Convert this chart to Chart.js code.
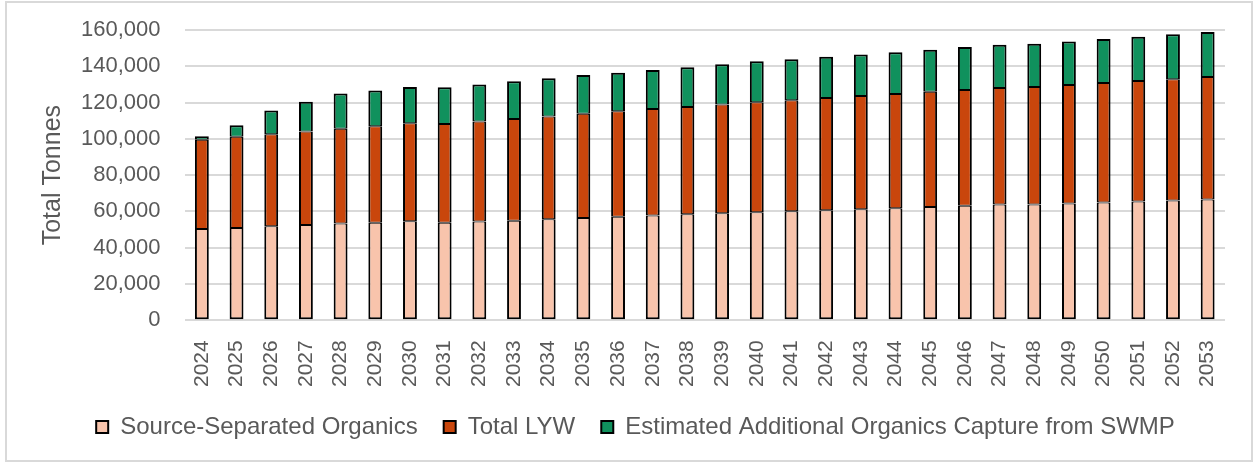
<!DOCTYPE html>
<html>
<head>
<meta charset="utf-8">
<script src="https://cdn.jsdelivr.net/npm/chart.js@4"></script>
<style>
  html, body { margin: 0; padding: 0; background: #fff; }
  #wrap { position: relative; width: 1259px; height: 465px; }
  #frame { position: absolute; left: 5px; top: 1px; width: 1244px; height: 457px; border: 2px solid #d9d9d9; pointer-events: none; }
</style>
</head>
<body>
<div id="wrap">
  <canvas id="chart" width="1259" height="465"></canvas>
  <div id="frame"></div>
</div>
<script>
// values, tonnes
const years = ['2024','2025','2026','2027','2028','2029','2030','2031','2032','2033',
  '2034','2035','2036','2037','2038','2039','2040','2041','2042','2043',
  '2044','2045','2046','2047','2048','2049','2050','2051','2052','2053'];

const sourceSeparated = [50300, 50900, 51800, 52500, 53300, 53800, 54600, 53800, 54400, 54900,
  55700, 56400, 57000, 57700, 58500, 59000, 59600, 60100, 60700, 61200,
  61800, 62500, 63100, 63800, 63800, 64400, 64900, 65500, 66000, 66600];

const totalLYW = [49200, 50300, 50700, 51500, 52300, 53100, 54000, 54400, 55100, 56100,
  56600, 57500, 58200, 58800, 59000, 59900, 60600, 61200, 61800, 62400,
  62900, 63500, 63800, 64200, 64800, 65300, 65900, 66400, 66800, 67500];

const swmpCapture = [1900, 6300, 13100, 16400, 19400, 19800, 20000, 20200, 20500, 20700,
  21100, 21300, 21300, 21500, 22000, 22200, 22600, 22600, 22700, 22900,
  23100, 23100, 23700, 23900, 23800, 24000, 24200, 24400, 24800, 24800];

const seriesNames = ['Source-Separated Organics', 'Total LYW', 'Estimated Additional Organics Capture from SWMP'];

const FONT = "'Liberation Sans', Arial, sans-serif";
const TEXT = '#595959';

// segments share one outline, so the inner edges get half width
const bar = (label, data, color, top, bottom) => ({
  label, data,
  backgroundColor: color,
  borderColor: '#000',
  borderWidth: { left: 2, right: 2, top, bottom },
  borderSkipped: false,
  barPercentage: 0.4,
  categoryPercentage: 1.0,
});

// legend sits a bit right of centre in the original
const legendShift = {
  id: 'legendShift',
  afterLayout(chart) {
    chart.legend.left += 13;
    chart.legend.right += 13;
  }
};

new Chart(document.getElementById('chart'), {
  type: 'bar',
  data: {
    labels: years,
    datasets: [
      bar(seriesNames[0], sourceSeparated, '#F8C4AC', 1, 2),
      bar(seriesNames[1], totalLYW, '#C9460C', 1, 1),
      bar(seriesNames[2], swmpCapture, '#10915D', 2, 1),
    ]
  },
  plugins: [legendShift],
  options: {
    responsive: false,
    animation: false,
    layout: { padding: { left: 20, right: 34, top: 30, bottom: 16 } },
    plugins: {
      tooltip: { enabled: false },
      legend: {
        position: 'bottom',
        labels: {
          color: TEXT,
          font: { family: FONT, size: 24 },
          boxWidth: 12, boxHeight: 12,
          padding: 26,
          generateLabels: chart => Chart.defaults.plugins.legend.labels.generateLabels(chart)
            .map(l => ({ ...l, lineWidth: 2 })),
        }
      }
    },
    scales: {
      x: {
        stacked: true,
        grid: { display: false },
        border: { display: false },
        ticks: {
          color: TEXT,
          font: { family: FONT, size: 21 },
          minRotation: 90, maxRotation: 90,
          autoSkip: false,
          padding: 12,
        },
        afterFit: axis => { axis.height -= 10; },
      },
      y: {
        stacked: true,
        min: 0, max: 160000,
        grid: { color: '#d9d9d9', lineWidth: 2, drawTicks: false },
        border: { display: false },
        ticks: {
          stepSize: 20000,
          color: TEXT,
          font: { family: FONT, size: 22 },
          padding: 24,
          callback: v => v.toLocaleString('en-US'),
        },
        afterFit: axis => { axis.paddingTop = 0; axis.paddingBottom = 0; },
        title: {
          display: true,
          text: 'Total Tonnes',
          color: TEXT,
          font: { family: FONT, size: 25, weight: 'normal' },
          padding: { top: 18, bottom: -11 },
        }
      }
    }
  }
});
</script>
</body>
</html>
